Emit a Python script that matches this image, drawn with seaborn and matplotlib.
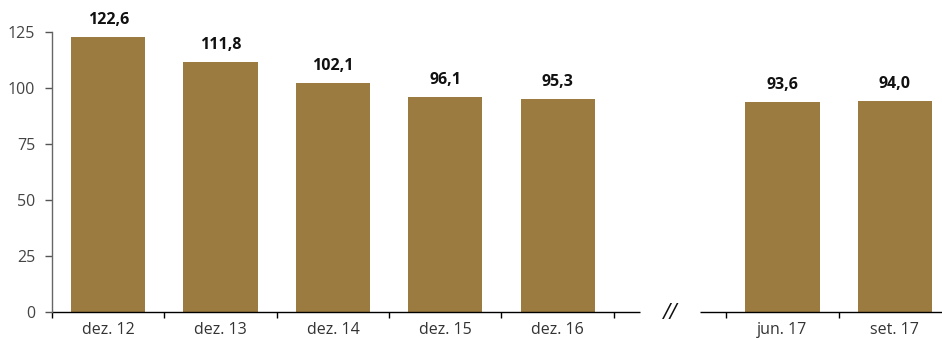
import matplotlib
matplotlib.use("Agg")
import matplotlib.pyplot as plt
import seaborn as sns
import pandas as pd

# Data
categories = ["dez. 12", "dez. 13", "dez. 14", "dez. 15", "dez. 16", "jun. 17", "set. 17"]
values = [122.6, 111.8, 102.1, 96.1, 95.3, 93.6, 94.0]
y_ticks = [0, 25, 50, 75, 100, 125]

# Empty slot between the yearly and the quarterly figures
gap_label = " "
order = categories[:5] + [gap_label] + categories[5:]

df = pd.DataFrame({"periodo": categories, "valor": values})

sns.set_theme(style="white")
plt.rcParams["font.family"] = ["Open Sans", "DejaVu Sans"]

fig = plt.figure(figsize=(9.42, 3.38), dpi=100)
ax = fig.add_axes([52 / 942, 26 / 338, 1 - 52 / 942, 280 / 338])

bar_color = "#9b7b3f"
sns.barplot(data=df, x="periodo", y="valor", order=order, color=bar_color,
            saturation=1, width=0.66, edgecolor="none", ax=ax)

# Value labels above bars
for cat, v in zip(categories, values):
    xpos = order.index(cat)
    ax.annotate(f"{v:.1f}".replace(".", ","), (xpos, v), xytext=(0, 6.5),
                textcoords="offset points", ha="center", va="bottom",
                fontsize=11.5, fontweight="bold", color="#111111",
                annotation_clip=False)

ax.set_xlim(-0.5, 7.42)
ax.set_ylim(0, 125)
ax.set_yticks(y_ticks)
ax.set_xlabel("")
ax.set_ylabel("")

# Spines: grey left axis, broken baseline
for s in ["top", "right", "bottom"]:
    ax.spines[s].set_visible(False)
ax.spines["left"].set_color("#666666")
ax.spines["left"].set_linewidth(1.0)

gap_pos = order.index(gap_label)
ax.plot([-0.5, gap_pos - 0.27], [0, 0], color="black", lw=1.0, clip_on=False,
        solid_capstyle="butt")
ax.plot([gap_pos + 0.27, 7.42], [0, 0], color="black", lw=1.0, clip_on=False,
        solid_capstyle="butt")
ax.text(gap_pos, -0.8, "//", ha="center", va="center", fontsize=15,
        fontstyle="italic", color="#111111")

# Ticks: boundaries as minor ticks, labels on majors
ax.set_xticks(range(len(order)))
ax.set_xticklabels(order)
ax.set_xticks([i - 0.5 for i in range(len(order))], minor=True)
ax.tick_params(axis="x", which="major", length=0, pad=7, labelsize=11.5,
               labelcolor="#333333")
ax.tick_params(axis="x", which="minor", bottom=True, length=4, width=1.0,
               color="black", direction="out")
ax.tick_params(axis="y", left=True, length=5, width=1.0, color="#555555",
               labelsize=11.5, labelcolor="#444444", pad=7)

fig.savefig("out.png", dpi=100)
